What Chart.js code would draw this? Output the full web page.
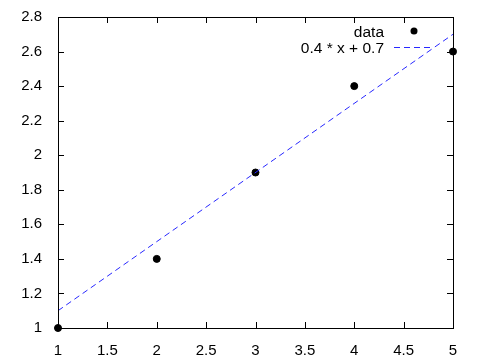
<!DOCTYPE html>
<html>
<head>
<meta charset="utf-8">
<script src="https://cdn.jsdelivr.net/npm/chart.js@4"></script>
<style>
  html, body { margin: 0; padding: 0; background: #fff; }
  #wrap { width: 480px; height: 360px; }
</style>
</head>
<body>
<div id="wrap"><canvas id="grafica" width="480" height="360"></canvas></div>
<script>
// datos
const datosX = [1, 2, 3, 4, 5];
const datosY = [1, 1.4, 1.9, 2.4, 2.6];
// recta 0.4 * x + 0.7 (extremos)
const rectaX = [1, 5];
const rectaY = [1.1, 2.7];
const ticksX = [1, 1.5, 2, 2.5, 3, 3.5, 4, 4.5, 5];
const ticksY = [1, 1.2, 1.4, 1.6, 1.8, 2, 2.2, 2.4, 2.6, 2.8];
const etiquetas = ['data', '0.4 * x + 0.7'];

const fuente = '"Liberation Sans", Arial, sans-serif';
const azul = 'rgb(40,40,255)';

// marco + ticks hacia adentro, estilo gnuplot
const marcoPlugin = {
  id: 'marco',
  afterDraw(chart) {
    const ctx = chart.ctx;
    const a = chart.chartArea;
    const sx = chart.scales.x, sy = chart.scales.y;
    ctx.save();
    ctx.strokeStyle = '#000';
    ctx.lineWidth = 1;
    ctx.strokeRect(a.left + 0.5, a.top + 0.5, a.right - a.left, a.bottom - a.top);
    ctx.beginPath();
    ticksX.forEach(v => {
      const px = Math.round(sx.getPixelForValue(v)) + 0.5;
      ctx.moveTo(px, a.bottom); ctx.lineTo(px, a.bottom - 6);
      ctx.moveTo(px, a.top); ctx.lineTo(px, a.top + 6);
    });
    ticksY.forEach(v => {
      const py = Math.round(sy.getPixelForValue(v)) + 0.5;
      ctx.moveTo(a.left, py); ctx.lineTo(a.left + 6, py);
      ctx.moveTo(a.right, py); ctx.lineTo(a.right - 6, py);
    });
    ctx.stroke();

    // leyenda
    const tx = a.right - 69;
    ctx.font = '15.5px ' + fuente;
    ctx.fillStyle = '#000';
    ctx.textAlign = 'right';
    ctx.textBaseline = 'middle';
    ctx.fillText(etiquetas[0], tx, a.top + 16);
    ctx.fillText(etiquetas[1], tx, a.top + 32);
    ctx.beginPath();
    ctx.arc(a.right - 39, a.top + 14, 3.5, 0, Math.PI * 2);
    ctx.fill();
    ctx.strokeStyle = azul;
    ctx.setLineDash([6, 4]);
    ctx.beginPath();
    ctx.moveTo(tx + 10, a.top + 30.5);
    ctx.lineTo(a.right - 21, a.top + 30.5);
    ctx.stroke();
    ctx.restore();
  }
};

const ctx = document.getElementById('grafica').getContext('2d');
const miGrafica = new Chart(ctx, {
  type: 'scatter',
  data: {
    datasets: [
      {
        label: etiquetas[1],
        type: 'line',
        data: rectaX.map((x, i) => ({ x: x, y: rectaY[i] })),
        borderColor: azul,
        borderWidth: 1,
        borderDash: [6, 4],
        pointRadius: 0,
        fill: false
      },
      {
        label: etiquetas[0],
        data: datosX.map((x, i) => ({ x: x, y: datosY[i] })),
        backgroundColor: '#000',
        borderColor: '#000',
        pointRadius: 3.5,
        pointHoverRadius: 3.5,
        clip: false
      }
    ]
  },
  options: {
    responsive: false,
    animation: false,
    layout: { padding: { top: 16, right: 27, left: 0, bottom: 0 } },
    plugins: { legend: { display: false }, tooltip: { enabled: false } },
    scales: {
      x: {
        type: 'linear', min: 1, max: 5,
        afterBuildTicks: s => { s.ticks = ticksX.map(v => ({ value: v })); },
        afterFit: s => { s.height = 32; },
        grid: { display: false },
        border: { display: false },
        ticks: { color: '#000', font: { family: fuente, size: 15 }, padding: 6, maxRotation: 0,
                 callback: v => String(v) }
      },
      y: {
        type: 'linear', min: 1, max: 2.8,
        afterBuildTicks: s => { s.ticks = ticksY.map(v => ({ value: v })); },
        afterFit: s => { s.width = 58; },
        grid: { display: false },
        border: { display: false },
        ticks: { color: '#000', font: { family: fuente, size: 15 }, padding: 8,
                 callback: v => String(v) }
      }
    }
  },
  plugins: [marcoPlugin]
});
</script>
</body>
</html>
